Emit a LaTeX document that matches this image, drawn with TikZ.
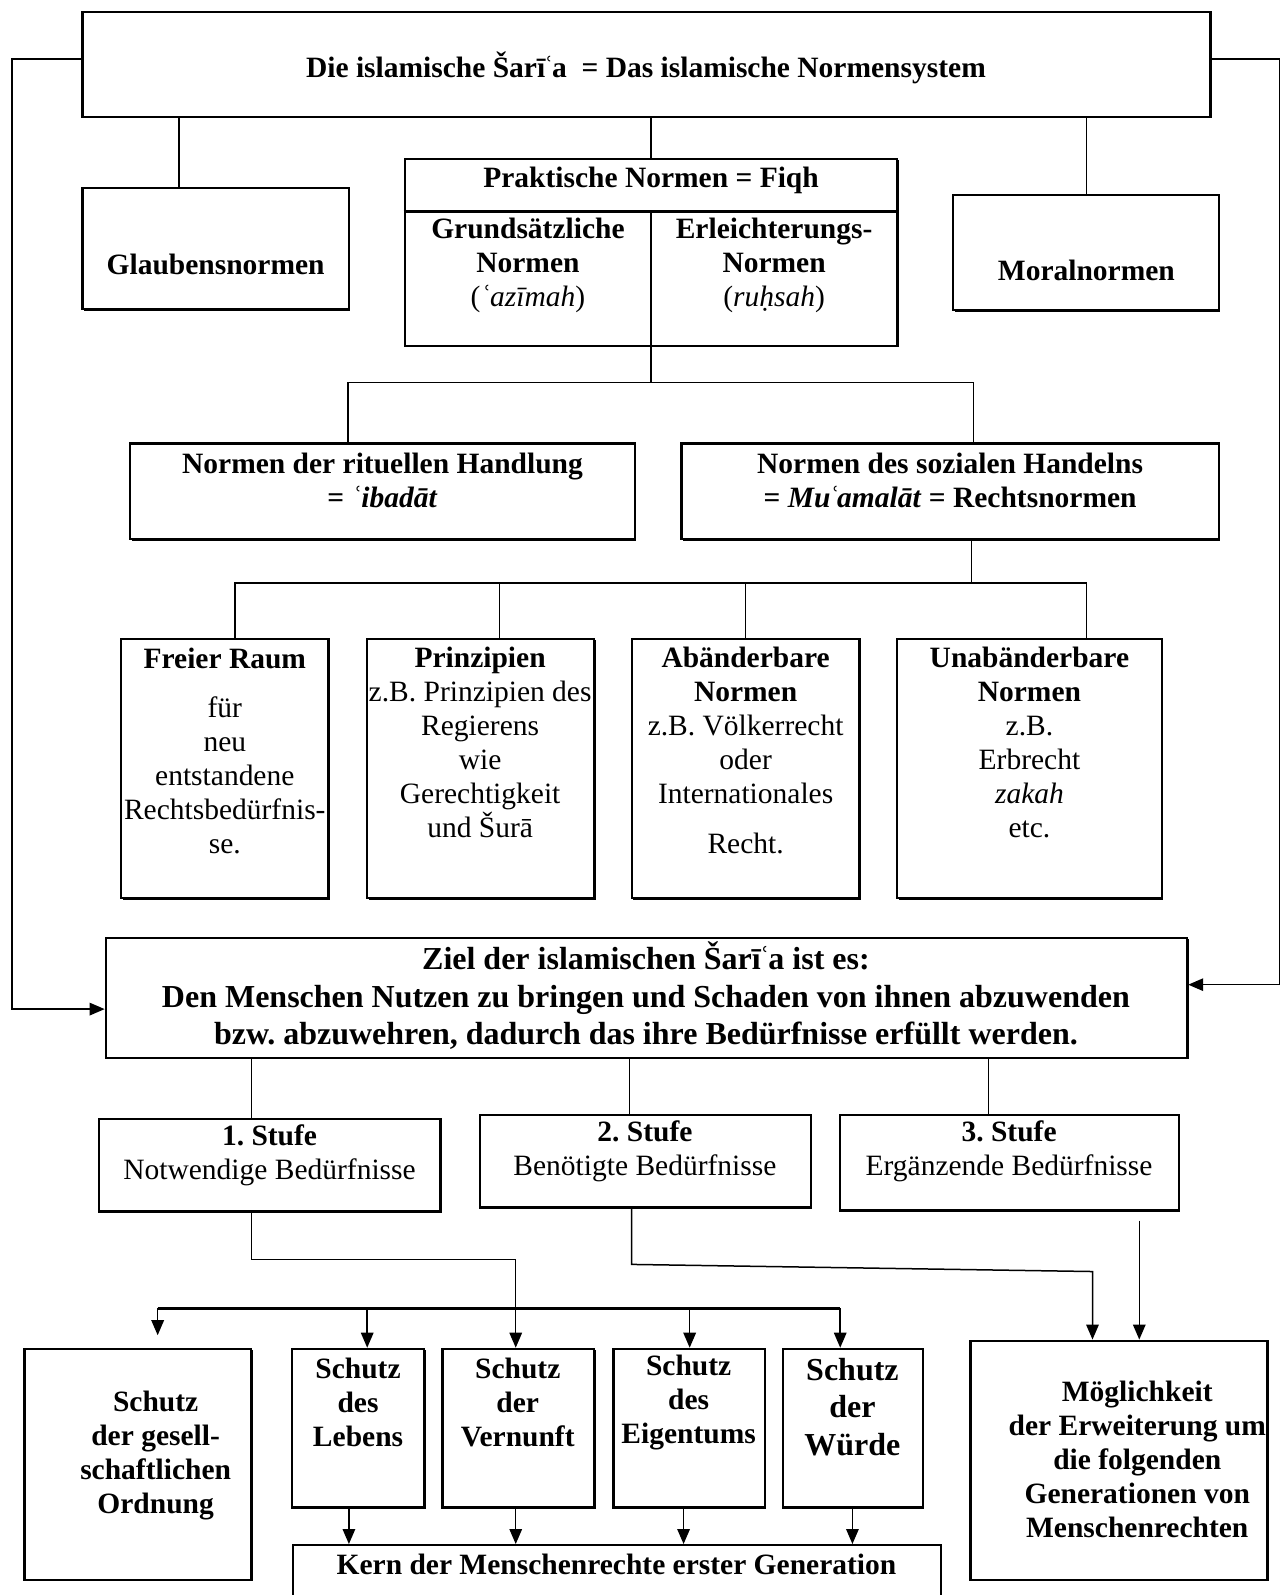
\documentclass[tikz,border=0pt]{standalone}
\usepackage{fontspec}
\setmainfont{Liberation Serif}
\frenchspacing
\usetikzlibrary{arrows.meta,fit,shadows}
\newcommand{\ayn}{\kern-0.6pt ʿ\kern-0.6pt}
\begin{document}
\begin{tikzpicture}[x=0.407pt,y=-0.407pt,
  box/.style={draw,line width=0.9pt,inner sep=0pt,fill=white,
    drop shadow={shadow xshift=0.6pt,shadow yshift=-0.6pt,opacity=1,fill=black}},
  lbl/.style={align=center,inner sep=0pt,font=\fontsize{11.8}{13.6}\selectfont\bfseries},
  plain/.style={lbl,font=\fontsize{11.8}{13.6}\selectfont},
  big/.style={lbl,font=\fontsize{12.8}{15}\selectfont\bfseries},
  conn/.style={line width=0.6pt},
  arr/.style={conn,-{Triangle[length=6pt,width=5pt]}}]
\useasboundingbox (0,0) rectangle (1260,1568);
% boxes
\node[box,fit={(81,12) (1190,115)}] (shar) {};
\node[box,fit={(81,185) (343,304)}] (glaub) {};
\node[box,fit={(398,156) (882,340)}] (prak) {};
\node[box,fit={(937,192) (1198,305)}] (moral) {};
\node[box,fit={(128,436) (624,530)}] (ritual) {};
\node[box,fit={(670,436) (1198,530)}] (sozial) {};
\foreach \n/\a/\b in {freier/119/323,prinz/361/584,abaend/621/845,unab/882/1142}
  \node[box,fit={(\a,628) (\b,883)}] (\n) {};
\node[box,fit={(104,922) (1167,1040)}] (ziel) {};
\node[box,fit={(97,1100) (433,1191)}] (st1) {};
\node[box,fit={(472,1096) (797,1187)}] (st2) {};
\node[box,fit={(826,1096) (1159,1190)}] (st3) {};
\node[box,fit={(24,1326) (247,1553)}] (gesell) {};
\foreach \n/\a/\b in {leben/287/417,vern/435/584,eigen/603/752,wuerde/770/907}
  \node[box,fit={(\a,1326) (\b,1482)}] (\n) {};
\node[box,fit={(288,1519) (925,1620)}] (kern) {};
\node[box,fit={(954,1318) (1246,1553)}] (moeg) {};
\draw[line width=0.9pt] (prak.west |- 0,208) -- (prak.east |- 0,208)
  (prak.center |- 0,208) -- (prak.south);
% texts
\node[lbl] (sharT) at (635,67) {Die islamische Šarī\ayn a\ \ = Das islamische Normensystem};
\node[lbl] (glaubT) at (212,260) {Glaubensnormen};
\node[lbl] (prakT) at (640,177) {Praktische Normen = Fiqh};
\node[lbl] (grund) at (519,261) {Grundsätzliche\\Normen\\\mdseries(\textit{ʿazīmah})};
\node[lbl] (erleicht) at (761,261) {Erleichterungs-\\Normen\\\mdseries(\textit{ruḥsah})};
\node[lbl] (moralT) at (1068,266) {Moralnormen};
\node[lbl] (ritualT) at (376,472) {Normen der rituellen Handlung\\= \textit{ʿibadāt}};
\node[lbl] (sozialT) at (934,472) {Normen des sozialen Handelns\\= \textit{Mu\ayn amalāt} = Rechtsnormen};
\node[plain] (freierT) at (221,738) {\textbf{Freier Raum}\\[5.9pt]für\\neu\\entstandene\\Rechtsbedürfnis-\\se.};
\node[plain] (prinzT) at (472,730) {\textbf{Prinzipien}\\z.B. Prinzipien des\\Regierens\\wie\\Gerechtigkeit\\und Šurā};
\node[plain] (abaendT) at (733,738) {\textbf{Abänderbare}\\\textbf{Normen}\\z.B. Völkerrecht\\oder\\Internationales\\[6.5pt]Recht.};
\node[plain] (unabT) at (1012,730) {\textbf{Unabänderbare}\\\textbf{Normen}\\z.B.\\Erbrecht\\\textit{zakah}\\etc.};
\node[big] (zielT) at (635,979) {Ziel der islamischen Šarī\ayn a ist es:\\Den Menschen Nutzen zu bringen und Schaden von ihnen abzuwenden\\bzw. abzuwehren, dadurch das ihre Bedürfnisse erfüllt werden.};
\node[plain] (st1T) at (265,1136) {\textbf{1. Stufe}\\Notwendige Bedürfnisse};
\node[plain] (st2T) at (634,1132) {\textbf{2. Stufe}\\Benötigte Bedürfnisse};
\node[plain] (st3T) at (992,1132) {\textbf{3. Stufe}\\Ergänzende Bedürfnisse};
\node[lbl] (gesellT) at (153,1431) {Schutz\\der gesell-\\schaftlichen\\Ordnung};
\node[lbl] (lebenT) at (352,1379) {Schutz\\des\\Lebens};
\node[lbl] (vernT) at (509,1379) {Schutz\\der\\Vernunft};
\node[lbl] (eigenT) at (677,1379) {Schutz\\des\\Eigentums};
\node[big] (wuerdeT) at (838,1383) {Schutz\\der\\Würde};
\node[lbl] (kernT) at (606,1538) {Kern der Menschenrechte erster Generation};
\node[lbl] (moegT) at (1118,1435) {Möglichkeit\\der Erweiterung um\\die folgenden\\Generationen von\\Menschenrechten};
% connectors
\coordinate (lft) at (12,992);
\coordinate (rgt) at (1258,968);
\draw[arr] (shar.west |- 0,58) -| (lft) -- (ziel.west |- lft);
\draw[arr] (shar.east |- 0,58) -| (rgt) -- (ziel.east |- rgt);
\draw[conn] (shar.south -| 176,0) -- (glaub.north -| 176,0);
\draw[conn] (shar.south -| 640,0) -- (prak.north -| 640,0);
\draw[conn] (shar.south -| 1068,0) -- (moral.north -| 1068,0);
\coordinate (fq) at (640,376);
\draw[conn] (prak.south) -- (fq);
\draw[conn] (ritual.north -| 342,0) |- (fq) -| (sozial.north -| 957,0);
\coordinate (sb) at (955,573);
\draw[conn] (sozial.south -| sb) -- (sb);
\draw[conn] (freier.north -| 231,0) |- (sb) -| (unab.north -| 1068,0);
\draw[conn] (prinz.north -| 491,0) -- (sb -| 491,0);
\draw[conn] (abaend.north -| 733,0) -- (sb -| 733,0);
\foreach \n/\x in {st1/247,st2/619,st3/972}
  \draw[conn] (ziel.south -| \x,0) -- (\n.north -| \x,0);
\coordinate (k1) at (507,1238);
\draw[arr] (st1.south -| 247,0) |- (k1) -- (vern.north -| k1);
\coordinate (bl) at (155,1286);
\coordinate (br) at (826,1286);
\draw[line width=1.2pt] (bl) -- (br);
\draw[arr,shorten >=5pt] (bl) -- (gesell.north -| bl);
\draw[arr] (bl -| 361,0) -- (leben.north -| 361,0);
\draw[arr] (bl -| 678,0) -- (eigen.north -| 678,0);
\draw[arr] (br) -- (wuerde.north -| br);
\coordinate (m1) at (621,1243);
\coordinate (m2) at (1074,1250);
\draw[arr] (st2.south -| m1) -- (m1) -- (m2) -- (moeg.north -| m2);
\coordinate (s3) at (1120,1200);
\draw[arr] (s3) -- (moeg.north -| s3);
\foreach \n/\x in {leben/343,vern/507,eigen/672,wuerde/838}
  \draw[arr] (\n.south -| \x,0) -- (kern.north -| \x,0);
\end{tikzpicture}
\end{document}
